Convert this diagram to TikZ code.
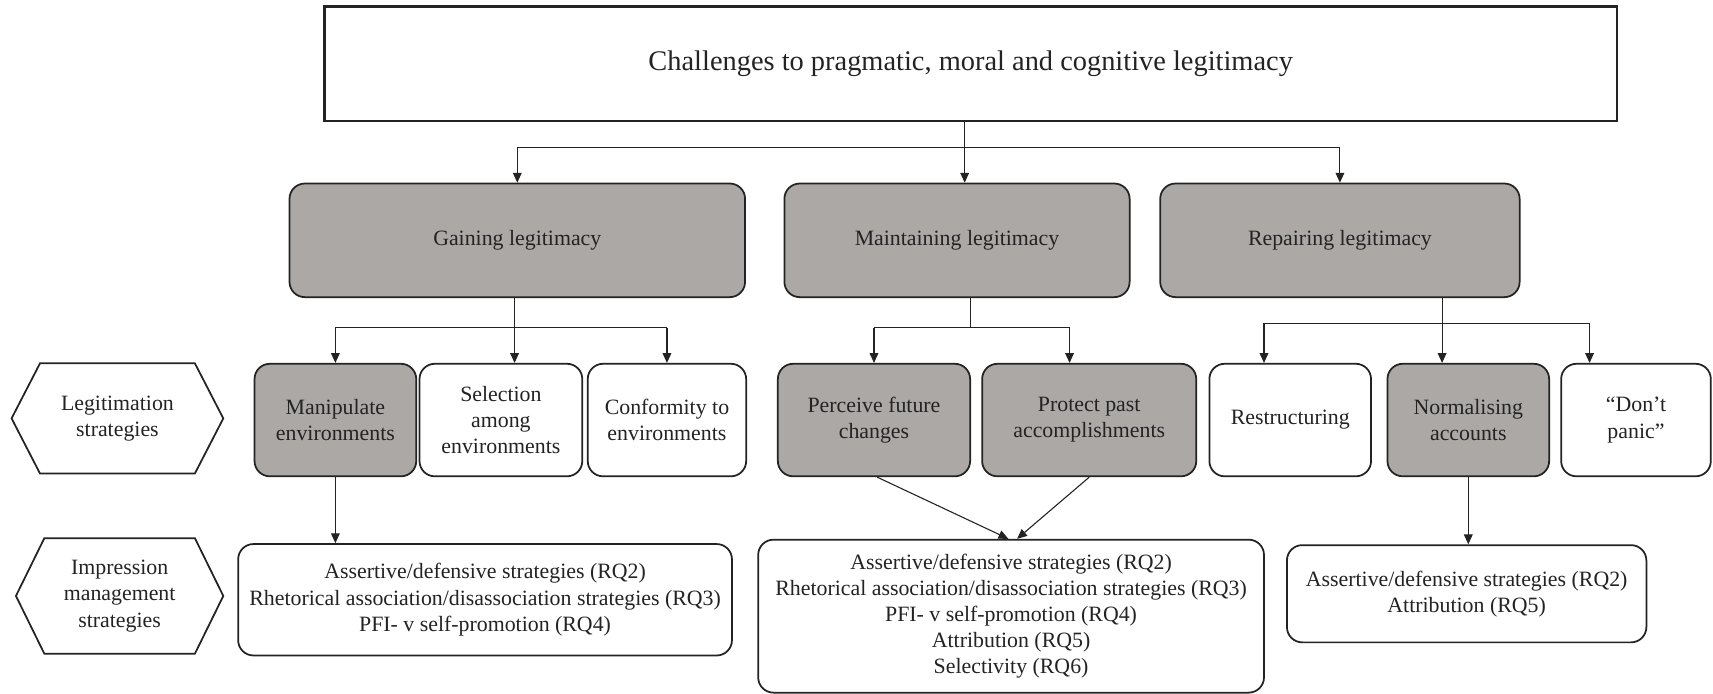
\documentclass[tikz,border=0pt]{standalone}
\usepackage{fontspec}
\setmainfont{Liberation Serif}
\usetikzlibrary{arrows.meta,calc}
\definecolor{boxgray}{RGB}{172,168,166}
\definecolor{ink}{RGB}{35,35,35}
\begin{document}
\begin{tikzpicture}[x=0.5pt,y=-0.5pt,
  every node/.style={font=\fontsize{10}{12}\selectfont, text=ink, align=center, inner sep=0pt},
  gbox/.style={draw=ink, line width=0.8pt, rounded corners=7pt, fill=boxgray},
  wbox/.style={draw=ink, line width=0.8pt, rounded corners=7pt, fill=white},
  hexlabel/.style={draw=none},
  conn/.style={draw=ink, line width=0.5pt},
  arr/.style={conn, -{Triangle[width=4pt,length=4.5pt]}},
]
\useasboundingbox (0,0) rectangle (1568,635);

% top box
\node[draw=ink, line width=1pt, minimum width=591.5pt, minimum height=52.5pt,
      font=\fontsize{13}{15.6}\selectfont] (top) at (888.5,58.5)
  {Challenges to pragmatic, moral and cognitive legitimacy};

% level 2
\node[gbox, minimum width=208.5pt, minimum height=52pt] (gain) at (473.5,220) {Gaining legitimacy};
\node[gbox, minimum width=158pt, minimum height=52pt] (maint) at (876,220) {Maintaining legitimacy};
\node[gbox, minimum width=164.5pt, minimum height=52pt] (rep) at (1226.5,220) {Repairing legitimacy};

% level 3
\node[gbox, minimum width=74pt, minimum height=51.5pt] (manip) at (307,384.5) {Manipulate\\environments};
\node[wbox, minimum width=74.5pt, minimum height=51.5pt] (sel) at (458.5,384.5) {Selection\\among\\environments};
\node[wbox, minimum width=72.5pt, minimum height=51.5pt] (conf) at (610.5,384.5) {Conformity to\\environments};
\node[gbox, minimum width=88pt, minimum height=51.5pt] (perc) at (800,384.5) {Perceive future\\changes};
\node[gbox, minimum width=98pt, minimum height=51.5pt] (prot) at (997,384.5) {Protect past\\accomplishments};
\node[wbox, minimum width=74pt, minimum height=51.5pt] (restr) at (1181,384.5) {Restructuring};
\node[gbox, minimum width=74pt, minimum height=51.5pt] (norm) at (1344,384.5) {Normalising\\accounts};
\node[wbox, minimum width=68.5pt, minimum height=51.5pt] (dont) at (1497.5,384.5) {“Don’t\\panic”};

% bottom level
\node[wbox, minimum width=226pt, minimum height=51pt] (bl) at (444,549)
  {Assertive/defensive strategies (RQ2)\\Rhetorical association/disassociation strategies (RQ3)\\PFI- v self-promotion (RQ4)};
\node[wbox, minimum width=231.5pt, minimum height=70pt] (bm) at (925.5,564)
  {Assertive/defensive strategies (RQ2)\\Rhetorical association/disassociation strategies (RQ3)\\PFI- v self-promotion (RQ4)\\Attribution (RQ5)\\Selectivity (RQ6)};
\node[wbox, minimum width=164.5pt, minimum height=44.5pt] (br) at (1342.5,543.5)
  {Assertive/defensive strategies (RQ2)\\Attribution (RQ5)};

% hexagon labels
\node[hexlabel, minimum width=70.5pt, minimum height=50pt] (hex1) at (107.5,383) {Legitimation\\strategies};
\node[hexlabel, minimum width=68.5pt, minimum height=52.5pt] (hex2) at (109.5,545.5) {Impression\\management\\strategies};
\foreach \h in {hex1,hex2}{
  \draw[draw=ink, line width=0.8pt, line join=miter]
    ([xshift=-13pt]\h.west) -- (\h.north west) -- (\h.north east) -- ([xshift=13pt]\h.east)
    -- (\h.south east) -- (\h.south west) -- cycle;
}

% top bus
\coordinate (b0) at (883,135);
\draw[conn] (top.south -| b0) -- (b0);
\draw[conn] (gain.north |- b0) -- (rep.north |- b0);
\draw[arr] (gain.north |- b0) -- (gain.north);
\draw[arr] (b0) -- (maint.north -| b0);
\draw[arr] (rep.north |- b0) -- (rep.north);

% gaining bus
\coordinate (b1) at (471,300);
\draw[conn] (gain.south -| b1) -- (b1);
\draw[conn] (manip.north |- b1) -- (conf.north |- b1);
\draw[arr] (manip.north |- b1) -- (manip.north);
\draw[arr] (b1) -- (sel.north -| b1);
\draw[arr] (conf.north |- b1) -- (conf.north);

% maintaining bus
\coordinate (b2) at (888,300);
\coordinate (b2r) at (979,300);
\draw[conn] (maint.south -| b2) -- (b2);
\draw[conn] (perc.north |- b2) -- (b2r);
\draw[arr] (perc.north |- b2) -- (perc.north);
\draw[arr] (b2r) -- (prot.north -| b2r);

% repairing bus
\coordinate (b3) at (1320,296);
\coordinate (b3l) at (1157,296);
\coordinate (b3r) at (1455,296);
\draw[conn] (rep.south -| b3) -- (b3);
\draw[conn] (b3l) -- (b3r);
\draw[arr] (b3l) -- (restr.north -| b3l);
\draw[arr] (b3) -- (norm.north -| b3);
\draw[arr] (b3r) -- (dont.north -| b3r);

% down to impression management
\draw[arr] (manip.south) -- (bl.north -| manip.south);
\draw[arr] ([xshift=1.5pt]perc.south) -- ([xshift=-1.25pt]bm.north);
\draw[arr] (prot.south) -- ([xshift=2.75pt]bm.north);
\draw[arr] (norm.south) -- (br.north -| norm.south);
\end{tikzpicture}
\end{document}
